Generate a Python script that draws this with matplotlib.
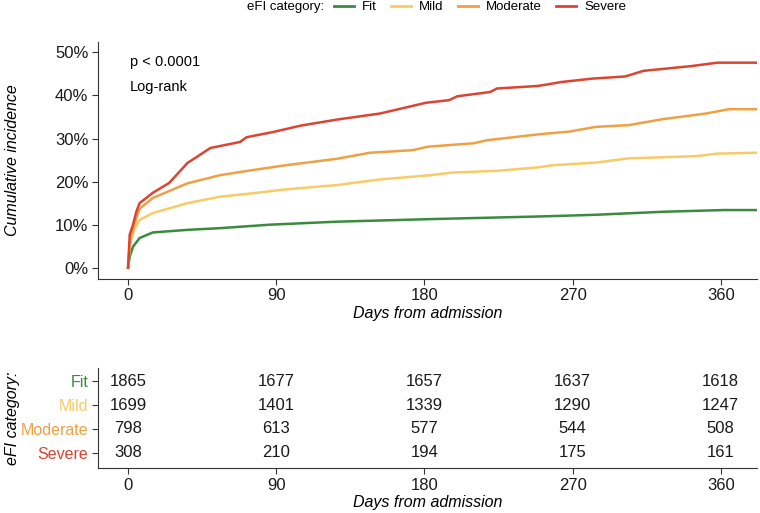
import numpy as np
import matplotlib.pyplot as plt
from matplotlib.lines import Line2D

plt.rcParams['font.family'] = ['Liberation Sans', 'DejaVu Sans']

# cumulative incidence (days, fraction)
fit_days = [0, 1, 3, 7, 15, 36, 56, 86, 127, 184, 249, 284, 325, 362, 383]
fit_inc = [0, 0.026, 0.049, 0.069, 0.082, 0.088, 0.092, 0.100, 0.107, 0.113, 0.119, 0.123, 0.130, 0.134, 0.134]

mild_days = [0, 1, 3, 5, 7, 15, 36, 56, 76, 96, 127, 153, 184, 197, 224, 249, 258, 284, 304, 345, 358, 383]
mild_inc = [0, 0.052, 0.080, 0.098, 0.111, 0.127, 0.150, 0.165, 0.173, 0.182, 0.192, 0.205, 0.215, 0.221,
            0.225, 0.233, 0.238, 0.244, 0.254, 0.259, 0.265, 0.267]

mod_days = [0, 1, 3, 5, 7, 15, 36, 56, 76, 96, 127, 147, 173, 182, 210, 218, 250, 268, 284, 304, 325, 351,
            365, 383]
mod_inc = [0, 0.060, 0.090, 0.115, 0.137, 0.162, 0.196, 0.215, 0.227, 0.238, 0.253, 0.267, 0.273, 0.281,
           0.289, 0.296, 0.310, 0.316, 0.327, 0.331, 0.345, 0.358, 0.368, 0.368]

sev_days = [0, 1, 3, 5, 7, 15, 25, 36, 50, 68, 72, 88, 105, 127, 153, 181, 195, 200, 220, 224, 249, 257,
            263, 282, 302, 313, 342, 358, 383]
sev_inc = [0, 0.077, 0.100, 0.130, 0.150, 0.174, 0.197, 0.243, 0.278, 0.292, 0.303, 0.315, 0.330, 0.344,
           0.358, 0.383, 0.389, 0.398, 0.408, 0.416, 0.422, 0.427, 0.431, 0.439, 0.444, 0.457, 0.468,
           0.476, 0.476]

groups = ["Fit", "Mild", "Moderate", "Severe"]
colors = ["#3b8b3f", "#f8cb66", "#f0a044", "#db4430"]

# numbers at risk
risk_times = [0, 90, 180, 270, 360]
risk_fit = [1865, 1677, 1657, 1637, 1618]
risk_mild = [1699, 1401, 1339, 1290, 1247]
risk_mod = [798, 613, 577, 544, 508]
risk_sev = [308, 210, 194, 175, 161]

curves = [(fit_days, fit_inc), (mild_days, mild_inc), (mod_days, mod_inc), (sev_days, sev_inc)]
risks = [risk_fit, risk_mild, risk_mod, risk_sev]

fig = plt.figure(figsize=(7.6, 5.13), dpi=100)
ax = fig.add_axes([0.129, 0.457, 0.867, 0.462])
tab = fig.add_axes([0.129, 0.088, 0.867, 0.195])

xlim = (-18.25, 382)

for (d, v), c in zip(curves, colors):
    ax.plot(d, v, color=c, lw=1.8, solid_joinstyle="miter")

ax.set_xlim(*xlim)
ax.set_ylim(-0.025, 0.525)
ax.set_xticks(risk_times)
ax.set_yticks([0, 0.1, 0.2, 0.3, 0.4, 0.5])
ax.set_yticklabels(["0%", "10%", "20%", "30%", "40%", "50%"])
ax.set_ylabel("Cumulative incidence", fontstyle="italic", fontsize=11.5)
ax.set_xlabel("Days from admission", fontstyle="italic", fontsize=11.5, labelpad=2)
ax.text(1, 0.477, "p < 0.0001", fontsize=10.5, va="center")
ax.text(1, 0.419, "Log-rank", fontsize=10.5, va="center")

for a in (ax, tab):
    a.spines["top"].set_visible(False)
    a.spines["right"].set_visible(False)
    a.spines["left"].set_color("#333333")
    a.spines["bottom"].set_color("#333333")
    a.tick_params(labelsize=12, length=4, color="#333333", labelcolor="#1a1a1a", pad=3)

# risk table
for i, (r, c) in enumerate(zip(risks, colors)):
    for t, n in zip(risk_times, r):
        tab.text(t, i, str(n), ha="center", va="center", fontsize=12, color="#1a1a1a")

tab.set_xlim(*xlim)
tab.set_ylim(3.62, -0.55)
tab.set_yticks(range(len(groups)))
tab.set_yticklabels(groups)
tab.tick_params(axis="y", labelsize=11.5)
for lbl, c in zip(tab.get_yticklabels(), colors):
    lbl.set_color(c)
tab.set_xticks(risk_times)
tab.set_xlabel("Days from admission", fontstyle="italic", fontsize=11.5, labelpad=2)
tab.set_ylabel("eFI category:", fontstyle="italic", fontsize=11.5)

# legend on top
fig.text(0.325, 0.986, "eFI category:", fontsize=9.5, va="center")
handles = [Line2D([], [], color=c, lw=2) for c in colors]
fig.legend(handles, groups, loc="center left", bbox_to_anchor=(0.44, 0.986), ncol=4, frameon=False,
           fontsize=9.5, handlelength=1.5, handletextpad=0.6, columnspacing=1.1, borderpad=0, borderaxespad=0)

ax.yaxis.set_label_coords(-0.118, 0.5)
tab.yaxis.set_label_coords(-0.118, 0.5)

fig.savefig("out.png", dpi=100)
